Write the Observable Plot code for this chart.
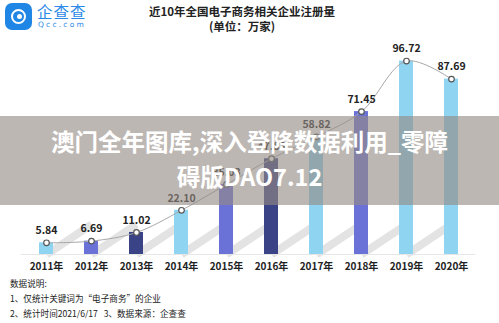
<!DOCTYPE html>
<html><head><meta charset="utf-8">
<script src="https://cdn.jsdelivr.net/npm/d3@7"></script>
<script src="https://cdn.jsdelivr.net/npm/@observablehq/plot@0.6"></script>
<style>
body{margin:0;background:#fff;font-family:"Noto Sans CJK SC","Noto Sans",sans-serif;}
#wrap{position:relative;width:499px;height:323px;overflow:hidden;background:#fff;}
#chart{position:absolute;left:0;top:0;}
.abs{position:absolute;}
#title{left:0;width:484px;top:4px;text-align:center;font-weight:700;font-size:11.5px;line-height:15px;color:#222;}
#logoIcon{left:5px;top:3px;width:27px;height:27px;border-radius:7px;background:#1f86e6;}
#logoIcon .ring{position:absolute;left:6px;top:6px;width:11px;height:11px;border:2.5px solid #fff;border-radius:50%;}
#logoIcon .dot{position:absolute;left:12px;top:11px;width:5px;height:5px;border-radius:50%;background:#fff;}
#logoText{left:37px;top:2px;color:#2c8ae6;font-size:15.5px;line-height:18px;letter-spacing:1px;}
#logoSub{left:38px;top:20px;color:#2c8ae6;font-size:7.5px;line-height:10px;letter-spacing:2.2px;font-family:"DejaVu Sans",sans-serif;}
#banner{left:0;top:116px;width:499px;height:89px;background:rgba(148,138,132,0.62);}
#bannerText{left:0;top:124px;width:499px;text-align:center;color:#fff;font-weight:700;font-size:23.5px;line-height:35px;}
#notes{left:10px;top:276px;font-size:8.6px;line-height:15px;color:#222;}
</style></head>
<body><div id="wrap">
<div id="chart"></div>
<div class="abs" id="logoIcon"><div class="ring"></div><div class="dot"></div></div>
<div class="abs" id="logoText">企查查</div>
<div class="abs" id="logoSub">Qcc.com</div>
<div class="abs" id="title">近10年全国电子商务相关企业注册量<br>(单位：万家)</div>
<div class="abs" id="banner"></div>
<div class="abs" id="bannerText">澳门全年图库,深入登降数据利用_零障<br>碍版DAO7.12</div>
<div class="abs" id="notes">数据说明:<br>1、仅统计关键词为“电子商务”的企业<br>2、统计时间2021/6/17&nbsp;&nbsp;&nbsp;3、数据来源：企查查</div>
</div>
<script>
const years = ["2011","2012","2013","2014","2015","2016","2017","2018","2019","2020"];
const values = [5.84, 6.69, 11.02, 22.10, 35.03, 47.88, 58.82, 71.45, 96.72, 87.69];
const tones = ["light","mid","dark","light","mid","dark","light","mid","light","light"];
const toneColors = {light:"#8fd4f0", mid:"#6a72d8", dark:"#3a4386"};

const data = years.map((y,i)=>({year:y, value:values[i], tone:tones[i]}));
const shadows = years.slice(0,-1).map((y,i)=>({a:y, b:years[i+1]}));

const chart = Plot.plot({
  width:499, height:323,
  marginTop:54, marginBottom:69, marginLeft:21, marginRight:24,
  style:{fontFamily:"'Noto Sans CJK SC', sans-serif", background:"transparent"},
  x:{type:"band", domain:years, paddingInner:0.69, paddingOuter:0.345, label:null, tickSize:0, tickPadding:8, tickFormat:d=>d+"年"},
  y:{domain:[0,100], axis:null},
  color:{domain:["light","mid","dark"], range:[toneColors.light,toneColors.mid,toneColors.dark]},
  marks:[
    Plot.link(shadows,{x1:"a", x2:"b", y1:0, y2:15, dx1:6, dx2:-6, stroke:"#e3e3e3", strokeWidth:8}),
    Plot.ruleY([0],{stroke:"#e6e6e6"}),
    Plot.barY(data,{x:"year", y:"value", fill:"tone"}),
    Plot.line(data,{x:"year", y:"value", curve:"catmull-rom", stroke:"#a8a8a8", strokeWidth:1}),
    Plot.dot(data,{x:"year", y:"value", r:2.8, fill:"#fff", stroke:"#555", strokeWidth:1.2}),
    Plot.text(data,{x:"year", y:"value", text:d=>d.value.toFixed(2), dy:-12, fontSize:10.5, fontWeight:"bold", fill:"#222"}),
    Plot.axisX({tickSize:0, tickPadding:8, fontSize:10, fontWeight:"bold", fill:"#222", tickFormat:d=>d+"年", label:null})
  ]
});
document.getElementById("chart").appendChild(chart);
</script>
</body></html>
